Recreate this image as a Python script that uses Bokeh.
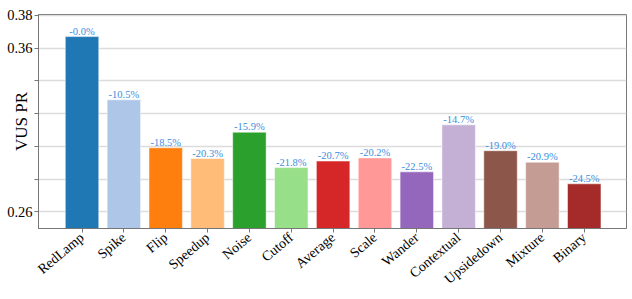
from bokeh.plotting import figure
from bokeh.models import ColumnDataSource, Range1d, FixedTicker, LabelSet
from bokeh.core.properties import value
from bokeh.embed import file_html
from bokeh.resources import INLINE

categories = ["RedLamp", "Spike", "Flip", "Speedup", "Noise", "Cutoff", "Average",
              "Scale", "Wander", "Contextual", "Upsidedown", "Mixture", "Binary"]
values = [0.367, 0.3284, 0.2991, 0.2925, 0.3086, 0.2870, 0.2910,
          0.2929, 0.2844, 0.3131, 0.2973, 0.2903, 0.2771]
pct_labels = ["-0.0%", "-10.5%", "-18.5%", "-20.3%", "-15.9%", "-21.8%", "-20.7%",
              "-20.2%", "-22.5%", "-14.7%", "-19.0%", "-20.9%", "-24.5%"]
colors = ["#1f77b4", "#aec7e8", "#ff7f0e", "#ffbb78", "#2ca02c", "#98df8a", "#d62728",
          "#ff9896", "#9467bd", "#c5b0d5", "#8c564b", "#c49c94", "#a52a2a"]
y_ticks = [0.26, 0.28, 0.30, 0.32, 0.34, 0.36, 0.38]
y_tick_labels = ["0.26", "", "", "", "", "0.36", "0.38"]

xs = list(range(len(categories)))
src = ColumnDataSource(dict(x=xs, top=values, color=colors, lab=pct_labels))

p = figure(width=632, height=299, output_backend="svg", toolbar_location=None,
           x_range=Range1d(-1.04, 13.01), y_range=Range1d(0.2498, 0.3805),
           min_border_left=38, min_border_right=6, min_border_top=14, min_border_bottom=71)

p.vbar(x="x", top="top", bottom=0.2, width=0.8, fill_color="color", source=src,
       line_color="white", line_alpha=0.5, line_width=1)

serif = "Liberation Serif"
labels = LabelSet(x="x", y="top", text="lab", source=src, text_align="center",
                  text_baseline="bottom", y_offset=0, text_font=value(serif),
                  text_font_size="10.5px", text_color="#3b8ede")
p.add_layout(labels)

# x axis
p.xaxis.ticker = FixedTicker(ticks=xs)
p.xaxis.major_label_overrides = {i: c for i, c in zip(xs, categories)}
p.xaxis.major_label_orientation = 0.70
p.xaxis.major_label_text_font = serif
p.xaxis.major_label_text_font_size = "14px"
p.xaxis.major_label_text_color = "black"
p.xaxis.major_label_standoff = 3
p.xaxis.minor_tick_line_color = None
p.xaxis.major_tick_out = 4
p.xaxis.major_tick_in = 0
p.xaxis.axis_line_color = "#777777"
p.xaxis.major_tick_line_color = "#777777"

# y axis
p.yaxis.ticker = FixedTicker(ticks=y_ticks)
p.yaxis.major_label_overrides = {t: l for t, l in zip(y_ticks, y_tick_labels)}
p.yaxis.major_label_text_font = serif
p.yaxis.major_label_text_font_size = "14.5px"
p.yaxis.major_label_text_color = "black"
p.yaxis.major_label_standoff = 2
p.yaxis.minor_tick_line_color = None
p.yaxis.major_tick_out = 4
p.yaxis.major_tick_in = 0
p.yaxis.axis_line_color = "#777777"
p.yaxis.major_tick_line_color = "#777777"
p.yaxis.axis_label = "VUS PR"
p.yaxis.axis_label_text_font = serif
p.yaxis.axis_label_text_font_size = "17px"
p.yaxis.axis_label_text_font_style = "normal"
p.yaxis.axis_label_text_color = "black"
p.yaxis.axis_label_standoff = -27

p.xgrid.grid_line_color = None
p.ygrid.grid_line_color = "#dcdcdc"
p.ygrid.grid_line_width = 1.5
p.outline_line_color = "#777777"
p.outline_line_width = 1
p.background_fill_color = "white"
p.border_fill_color = "white"

open("out.html", "w").write(file_html(p, INLINE))
